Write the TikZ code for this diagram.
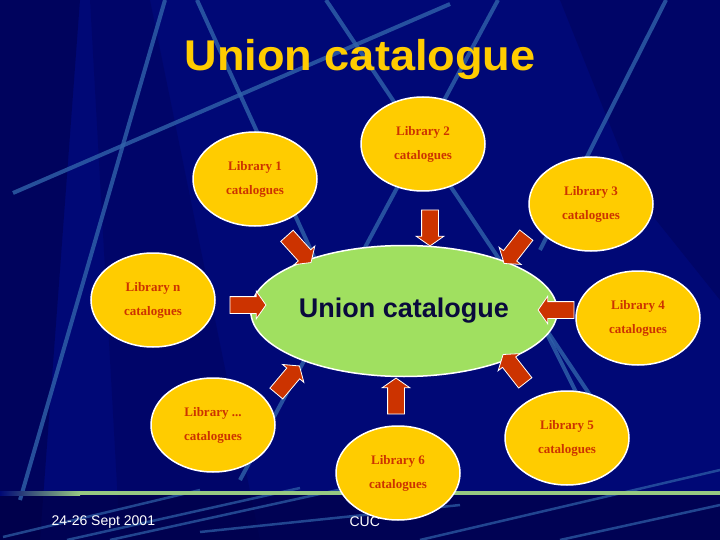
\documentclass[tikz,border=0pt]{standalone}
\usepackage{fontspec}
\setmainfont{Liberation Serif}
\newfontfamily\sansfont{Liberation Sans}
\usetikzlibrary{shapes.geometric,shapes.arrows}
\definecolor{bgnavy}{RGB}{0,8,118}
\definecolor{bgdark}{RGB}{0,0,70}
\definecolor{bgline}{RGB}{48,98,170}
\definecolor{libyellow}{RGB}{255,204,0}
\definecolor{libred}{RGB}{204,51,0}
\definecolor{uniongreen}{RGB}{160,224,96}
\definecolor{uniontext}{RGB}{10,10,60}
\definecolor{footgreen}{RGB}{150,200,130}
\tikzset{
  bgstroke/.style={draw=bgline, line width=4pt, opacity=0.8},
  footstroke/.style={draw=bgline, line width=2.5pt, opacity=0.7},
  libnode/.style={ellipse, draw=white, line width=1.5pt, fill=libyellow,
    minimum width=124pt, minimum height=94pt, inner sep=0pt, align=center,
    text=libred, font=\bfseries\fontsize{13}{24}\selectfont},
  blockarrow/.style={single arrow, draw=white, line width=0.8pt, fill=libred,
    minimum height=36pt, inner xsep=0pt, inner ysep=8pt,
    single arrow head extend=5.5pt, single arrow tip angle=110},
  foottext/.style={text=white, font=\sansfont\fontsize{14}{16}\selectfont, anchor=west}
}
\begin{document}
\begin{tikzpicture}[x=1pt, y=-1pt]
  \useasboundingbox (0,0) rectangle (720,540);
  % background
  \fill[bgnavy] (0,0) rectangle (720,540);
  \fill[bgdark, opacity=0.5] (0,0) -- (80,0) -- (40,540) -- (0,540) -- cycle;
  \fill[bgdark, opacity=0.25] (90,0) -- (150,0) -- (260,540) -- (120,540) -- cycle;
  \fill[bgdark, opacity=0.3] (560,0) -- (720,0) -- (720,300) -- (640,200) -- cycle;
  \fill[bgdark, opacity=0.7] (0,495) rectangle (720,540);
  % background lines
  \draw[bgstroke] (13,193) -- (450,4);
  \draw[bgstroke] (165,0) -- (20,500);
  \draw[bgstroke] (197,0) -- (320,270);
  \draw[bgstroke] (326,0) -- (600,410);
  \draw[bgstroke] (498,0) -- (240,480);
  \draw[bgstroke] (666,0) -- (540,250);
  \draw[bgstroke] (540,320) -- (590,420);
  % footer lines
  \draw[footstroke] (3,537) -- (200,490);
  \draw[footstroke] (67,540) -- (300,488);
  \draw[footstroke] (110,540) -- (420,472);
  \draw[footstroke] (200,532) -- (460,505);
  \draw[footstroke] (420,540) -- (720,470);
  \draw[footstroke] (560,540) -- (720,505);
  \shade[left color=bgnavy, right color=footgreen] (0,491) rectangle (80,495);
  \fill[footgreen] (80,491) rectangle (720,495);
  % title
  \node[text=libyellow, font=\sansfont\bfseries\fontsize{43}{48}\selectfont, xscale=1.05] (title) at (360,59) {Union catalogue};
  % centre
  \node[ellipse, draw=white, line width=1.5pt, fill=uniongreen, minimum width=257pt,
    minimum height=131pt, text=uniontext, font=\sansfont\bfseries\fontsize{27}{30}\selectfont] (union) at (404,311) {Union catalogue};
  % libraries
  \node[libnode] (lib1) at (255,179) {Library 1\\catalogues};
  \node[libnode] (lib2) at (423,144) {Library 2\\catalogues};
  \node[libnode] (lib3) at (591,204) {Library 3\\catalogues};
  \node[libnode] (lib4) at (638,318) {Library 4\\catalogues};
  \node[libnode] (lib5) at (567,438) {Library 5\\catalogues};
  \node[libnode] (lib6) at (398,473) {Library 6\\catalogues};
  \node[libnode] (libdots) at (213,425) {Library ...\\catalogues};
  \node[libnode] (libn) at (153,300) {Library n\\catalogues};
  % arrows
  \node[blockarrow, rotate=-48] (arr1) at (297,247) {};
  \node[blockarrow, rotate=-90] (arr2) at (430,225) {};
  \node[blockarrow, rotate=-128] (arr3) at (517,247) {};
  \node[blockarrow, rotate=180] (arr4) at (559,310) {};
  \node[blockarrow, rotate=128] (arr5) at (516,371) {};
  \node[blockarrow, rotate=90] (arr6) at (396,399) {};
  \node[blockarrow, rotate=50] (arrdots) at (286,382) {};
  \node[blockarrow] (arrn) at (245,305) {};
  % footer
  \node[foottext] (date) at (48,522) {24-26 Sept 2001};
  \node[foottext] (org) at (346,522) {CUC};
\end{tikzpicture}
\end{document}
